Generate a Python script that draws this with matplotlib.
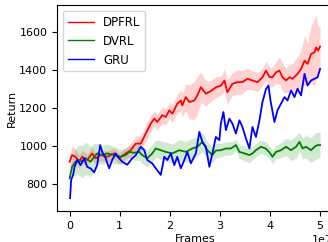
"""Return vs. frames for DPFRL / DVRL / GRU (mean curve, shaded spread)."""

import numpy as np
import matplotlib
matplotlib.use("Agg")
import matplotlib.pyplot as plt

# x values are in units of 1e7 frames
dpfrl_x = [0.00, 0.05, 0.12, 0.19, 0.25, 0.35, 0.45, 0.52, 0.62, 0.75, 0.89, 0.99,
           1.12, 1.22, 1.32, 1.42, 1.52, 1.62, 1.69, 1.75, 1.85, 1.92, 1.99,
           2.05, 2.15, 2.22, 2.25, 2.32, 2.39, 2.49, 2.55, 2.62,
           2.72, 2.82, 2.92, 3.02, 3.09, 3.15, 3.25, 3.35, 3.45,
           3.55, 3.65, 3.75, 3.85, 3.92, 3.99, 4.05,
           4.12, 4.19, 4.25, 4.32, 4.39, 4.45, 4.55,
           4.62, 4.69, 4.75, 4.82, 4.89, 4.92, 4.96, 5.00]
dpfrl_mean = [916, 951, 942, 916, 942, 925, 960, 934, 951, 942, 960, 934,
              960, 977, 1012, 1012, 1065, 1118, 1144, 1126, 1162, 1153, 1188,
              1170, 1223, 1240, 1214, 1258, 1232, 1240, 1267, 1310,
              1276, 1290, 1310, 1319, 1346, 1284, 1328, 1337, 1337,
              1355, 1346, 1337, 1363, 1398, 1365, 1363,
              1389, 1398, 1363, 1346, 1363, 1355, 1381,
              1407, 1451, 1434, 1486, 1495, 1521, 1504, 1525]
dpfrl_std = [35, 50, 40, 35, 35, 30, 35, 30, 30, 30, 30, 30,
             30, 35, 40, 40, 45, 45, 40, 40, 45, 40, 45,
             45, 50, 55, 60, 70, 90, 100, 100, 80,
             65, 55, 55, 50, 60, 65, 60, 65, 60,
             55, 50, 50, 45, 50, 55, 50,
             60, 70, 75, 65, 70, 80, 90,
             100, 130, 110, 150, 180, 170, 130, 110]

dvrl_x = [0.00, 0.05, 0.12, 0.19, 0.25, 0.32, 0.42, 0.49, 0.55, 0.65,
          0.75, 0.89, 1.02, 1.12, 1.19, 1.29, 1.39, 1.45, 1.55, 1.65,
          1.72, 1.82, 1.92, 2.05, 2.19, 2.32, 2.45, 2.55, 2.65, 2.75,
          2.85, 2.92, 3.02, 3.12, 3.22, 3.32, 3.39, 3.49, 3.59, 3.65,
          3.72, 3.82, 3.92, 3.99, 4.05, 4.12, 4.22, 4.32, 4.42, 4.52,
          4.59, 4.65, 4.72, 4.82, 4.89, 4.95, 5.00]
dvrl_mean = [828, 889, 916, 925, 916, 934, 916, 942, 960, 951,
             960, 951, 942, 951, 968, 963, 968, 951, 934, 960,
             986, 977, 968, 960, 977, 968, 986, 995, 1021, 977,
             951, 975, 977, 986, 986, 1004, 968, 960, 951, 960,
             977, 995, 985, 965, 942, 968, 977, 995, 977, 995,
             1021, 986, 995, 977, 995, 1004, 1004]
dvrl_std = [30, 50, 70, 80, 85, 85, 80, 70, 55, 50,
            50, 45, 40, 35, 35, 40, 45, 45, 45, 45,
            45, 50, 50, 50, 55, 55, 55, 50, 50, 45,
            40, 40, 35, 35, 35, 30, 35, 40, 40, 35,
            35, 35, 35, 35, 35, 35, 40, 45, 55, 60,
            50, 55, 60, 65, 70, 70, 65]

gru_x = [0.01, 0.03, 0.07, 0.10, 0.15, 0.22, 0.29, 0.35, 0.42, 0.49, 0.55,
         0.61, 0.65, 0.72, 0.79, 0.85, 0.92, 0.99, 1.05, 1.15, 1.25, 1.32,
         1.42, 1.49, 1.55, 1.65, 1.72, 1.82, 1.89, 1.95,
         2.02, 2.09, 2.15, 2.22, 2.29, 2.35, 2.42, 2.52, 2.59, 2.65, 2.72,
         2.79, 2.85, 2.92, 2.99,
         3.02, 3.07, 3.12, 3.19, 3.25, 3.32, 3.39, 3.45, 3.52, 3.59, 3.65,
         3.72, 3.79, 3.85, 3.92, 3.97,
         4.01, 4.09, 4.15, 4.22, 4.29, 4.35, 4.42, 4.49, 4.55, 4.62, 4.69,
         4.75, 4.82, 4.89, 4.95, 5.00]
gru_mean = [723, 819, 846, 889, 925, 898, 934, 889, 880, 860, 898,
            1004, 968, 934, 881, 925, 960, 934, 916, 900, 934, 950,
            995, 977, 925, 907, 881, 846, 942, 925,
            960, 898, 942, 881, 925, 968, 907, 960, 1074, 1021, 995,
            889, 960, 1047, 1030,
            1118, 1179, 1083, 1144, 1118, 1065, 1135, 1100, 1039, 986, 1100,
            1047, 1135, 1232, 1300, 1319,
            1240, 1126, 1188, 1223, 1258, 1240, 1293, 1258, 1302, 1267, 1381,
            1319, 1346, 1355, 1363, 1407]

labels = ["DPFRL", "DVRL", "GRU"]
colors = ["red", "green", "blue"]

plt.rcParams["font.family"] = "DejaVu Sans"
plt.rcParams["font.size"] = 8

fig = plt.figure(figsize=(3.28, 2.42), dpi=100)
# axes run past the right edge of the canvas, like the cropped original
ax = fig.add_axes([0.174, 0.128, 0.84, 0.851])

series = [(dpfrl_x, dpfrl_mean, dpfrl_std),
          (dvrl_x, dvrl_mean, dvrl_std),
          (gru_x, gru_mean, None)]
for (x, m, s), name, c in zip(series, labels, colors):
    frames = np.array(x) * 1e7
    m = np.array(m, dtype=float)
    ax.plot(frames, m, color=c, lw=1.3, label=name)
    if s is not None:
        s = np.array(s, dtype=float)
        ax.fill_between(frames, m - s, m + s, color=c, alpha=0.18, lw=0)

ax.set_xlim(-0.25e7, 5.25e7)
ax.set_ylim(655, 1745)
ax.set_yticks([800, 1000, 1200, 1400, 1600])
ax.set_xlabel("Frames", labelpad=2)
ax.set_ylabel("Return")
ax.yaxis.set_label_coords(-0.145, 0.5)
leg = ax.legend(loc="upper left", fontsize=8.5, handlelength=2.2)
for line in leg.get_lines():
    line.set_linewidth(1.0)

fig.savefig("out.png", dpi=100)
